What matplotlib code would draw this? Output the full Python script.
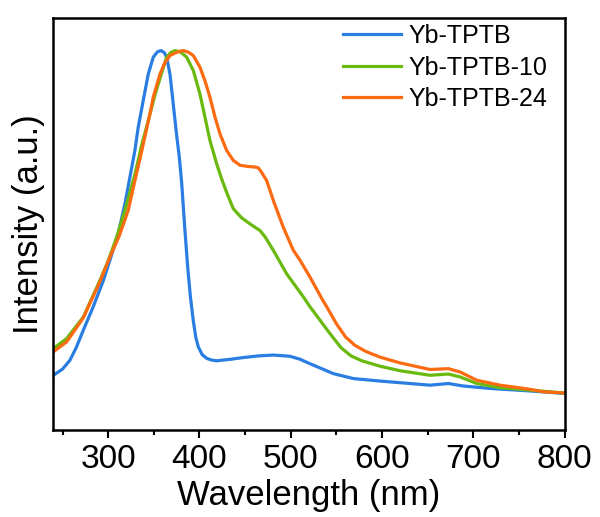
import matplotlib
matplotlib.use("Agg")
import matplotlib.pyplot as plt
from matplotlib.ticker import MultipleLocator

plt.rcParams['font.family'] = ['Liberation Sans', 'DejaVu Sans']

# Yb-TPTB (blue)
wl_blue = [240, 250, 258, 265, 272.7, 283.6, 294.6, 301.9, 311, 318.4, 323.8, 329.3,
           332.9, 338.4, 343.9, 349.4, 354, 358, 361.5, 364, 367.7, 371.3, 375, 377.9,
           380.5, 384.1, 387.1, 390, 393.2, 396, 398.7, 403, 407.9, 413, 418.8, 422.5,
           435, 448, 465, 480.9, 499.2, 510, 521.1, 535, 546.6, 568.5, 597.8, 619.7,
           652.6, 672.7, 689, 718.4, 762, 799.8]
int_blue = [0.133, 0.148, 0.169, 0.200, 0.242, 0.299, 0.362, 0.412, 0.476, 0.549, 0.613, 0.678,
            0.734, 0.799, 0.863, 0.904, 0.917, 0.920, 0.915, 0.904, 0.863, 0.790, 0.715, 0.662,
            0.600, 0.484, 0.395, 0.325, 0.266, 0.225, 0.202, 0.183, 0.174, 0.170, 0.168, 0.169,
            0.172, 0.176, 0.180, 0.182, 0.179, 0.172, 0.161, 0.148, 0.137, 0.125, 0.119, 0.115,
            0.109, 0.113, 0.107, 0.101, 0.095, 0.089]

# Yb-TPTB-10 (green)
wl_green = [240, 254.5, 272.7, 291, 300, 309.3, 318, 329.3, 336.6, 343.9, 351.2, 358.6,
            364, 369, 373.2, 379, 386, 393.2, 400.5, 406, 411.5, 418.8, 424.3, 430,
            437, 446, 455.3, 462, 466.3, 472, 480.9, 495.5, 513.8, 521.1, 543, 555,
            566, 578, 597.8, 619.7, 652.6, 672.7, 685.5, 703.8, 729.3, 762, 799.8]
int_green = [0.198, 0.222, 0.274, 0.363, 0.410, 0.468, 0.530, 0.620, 0.690, 0.750, 0.812, 0.866,
             0.904, 0.916, 0.920, 0.917, 0.904, 0.872, 0.815, 0.759, 0.702, 0.646, 0.609, 0.575,
             0.537, 0.515, 0.500, 0.490, 0.484, 0.468, 0.436, 0.379, 0.323, 0.299, 0.234, 0.200,
             0.180, 0.168, 0.155, 0.144, 0.133, 0.136, 0.129, 0.113, 0.103, 0.097, 0.090]

# Yb-TPTB-24 (orange)
wl_orange = [240, 254.5, 272.7, 291, 302, 312, 322, 329.3, 336.6, 345.8, 349.4, 356.7,
             362, 367.7, 373.2, 378, 382.3, 388, 393.2, 400.5, 406, 411.5, 417, 422.5,
             429.8, 437, 444.4, 453.5, 460, 464.4, 468, 473.6, 482, 491.8, 502.8, 510.1,
             521.1, 535, 539.4, 550, 560, 570, 582, 597.8, 619.7, 652.6, 672.7, 685.5, 703.8,
             729.3, 762.2, 776.8, 799.8]
int_orange = [0.190, 0.214, 0.272, 0.360, 0.420, 0.470, 0.533, 0.605, 0.675, 0.767, 0.807, 0.863,
              0.890, 0.908, 0.914, 0.918, 0.920, 0.916, 0.908, 0.880, 0.847, 0.807, 0.759, 0.718,
              0.678, 0.654, 0.642, 0.639, 0.638, 0.636, 0.625, 0.605, 0.550, 0.492, 0.436, 0.412,
              0.371, 0.315, 0.299, 0.258, 0.226, 0.206, 0.191, 0.177, 0.163, 0.147, 0.149, 0.141, 0.121,
              0.109, 0.099, 0.093, 0.090]

labels = ['Yb-TPTB', 'Yb-TPTB-10', 'Yb-TPTB-24']
colors = ['#2a7de1', '#6ab90e', '#fc6a11']

fig = plt.figure(figsize=(6.0, 5.17), dpi=100)
ax = fig.add_axes([0.089, 0.168, 0.852, 0.798])

ax.plot(wl_blue, int_blue, color=colors[0], lw=2.3, label=labels[0])
ax.plot(wl_green, int_green, color=colors[1], lw=2.3, label=labels[1])
ax.plot(wl_orange, int_orange, color=colors[2], lw=2.3, label=labels[2])

ax.set_xlim(240, 800)
ax.set_ylim(0, 1)
ax.xaxis.set_major_locator(MultipleLocator(100))
ax.xaxis.set_minor_locator(MultipleLocator(50))
ax.set_yticks([])
ax.tick_params(axis='x', which='major', direction='out', length=6, width=1.5, labelsize=24, pad=4)
ax.tick_params(axis='x', which='minor', direction='out', length=3.5, width=1.5)
for s in ax.spines.values():
    s.set_linewidth(1.8)

ax.set_xlabel('Wavelength (nm)', fontsize=25, labelpad=3)
ax.set_ylabel('Intensity (a.u.)', fontsize=25, labelpad=6)

ax.legend(loc='upper left', bbox_to_anchor=(0.567, 0.984), frameon=False, fontsize=18,
          handlelength=2.3, handletextpad=0.3, labelspacing=0.3, borderpad=0, borderaxespad=0)

fig.savefig('out.png', dpi=100)
